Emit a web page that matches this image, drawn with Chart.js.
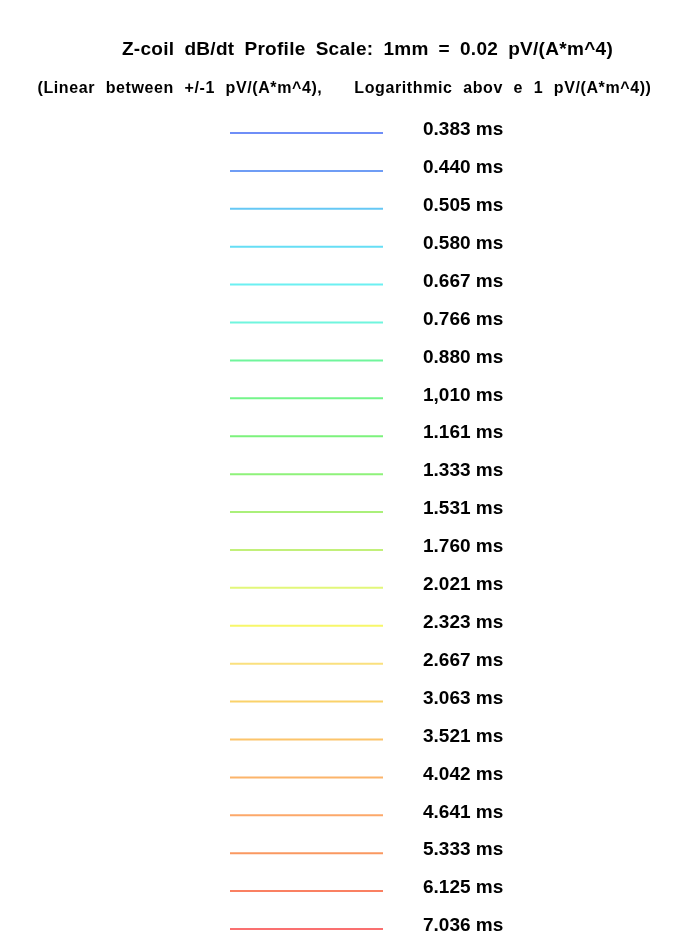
<!DOCTYPE html>
<html>
<head>
<meta charset="utf-8">
<script src="https://cdn.jsdelivr.net/npm/chart.js@4/dist/chart.umd.min.js"></script>
<style>
  html, body { margin: 0; padding: 0; background: #ffffff; }
  #wrap { width: 685px; height: 949px; }
</style>
</head>
<body>
<div id="wrap"><canvas id="profileChart"></canvas></div>
<script>
// delay times of the profile channels (as printed)
const timeLabels = ['0.383 ms', '0.440 ms', '0.505 ms', '0.580 ms', '0.667 ms', '0.766 ms',
  '0.880 ms', '1,010 ms', '1.161 ms', '1.333 ms', '1.531 ms', '1.760 ms', '2.021 ms',
  '2.323 ms', '2.667 ms', '3.063 ms', '3.521 ms', '4.042 ms', '4.641 ms', '5.333 ms',
  '6.125 ms', '7.036 ms'];

// each channel is drawn as a sample segment from start to end
const segmentX = [0, 1];

// channel colours, blue -> red
const palette = ['#6f8ef7', '#6f9df5', '#66c8f5', '#66def5', '#6cf0f2', '#70f5de',
  '#70f59c', '#74f58a', '#7cf27c', '#8ef27a', '#aaf07a', '#c2f07a', '#e2f77a',
  '#f7f76a', '#fae07e', '#fad26a', '#fcc46a', '#fcb46a', '#fca86a', '#fa9860',
  '#fa8062', '#fa7070'];

const titleText = 'Z-coil dB/dt Profile Scale: 1mm = 0.02 pV/(A*m^4)';
const subtitleText = '(Linear between +/-1 pV/(A*m^4),   Logarithmic abov e 1 pV/(A*m^4))';

// the original heading is set with wide word gaps, widen it the same way
const headingStyle = {};
headingStyle[titleText] = { letters: '0.3px', words: '4.4px', shift: 25 };
headingStyle[subtitleText] = { letters: '0.6px', words: '5.6px', shift: 2 };

const headingPlugin = {
  id: 'headingSpacing',
  beforeDraw: function (chart) {
    chart.boxes.forEach(function (box) {
      const style = box.options && headingStyle[box.options.text];
      if (!style || box._spaced) return;
      const draw = box.draw.bind(box);
      box.draw = function (area) {
        const c = chart.ctx;
        c.save();
        c.letterSpacing = style.letters;
        c.wordSpacing = style.words;
        c.translate(style.shift, 0);
        draw(area);
        c.restore();
      };
      box._spaced = true;
    });
  },
};

document.addEventListener('DOMContentLoaded', function () {
  const datasets = timeLabels.map(function (label, i) {
    return {
      label: label,
      data: segmentX.map(x => ({ x: x, y: label })),
      borderColor: palette[i],
      borderWidth: 2,
      pointRadius: 0,
      clip: false,
    };
  });

  const ctx = document.getElementById('profileChart').getContext('2d');
  new Chart(ctx, {
    type: 'line',
    data: { datasets: datasets },
    plugins: [headingPlugin],
    options: {
      responsive: true,
      maintainAspectRatio: false,
      animation: false,
      layout: { padding: 0 },
      scales: {
        x: { type: 'linear', min: 0, max: 1, display: false },
        y: {
          type: 'category',
          labels: timeLabels,
          position: 'right',
          offset: false,
          grid: { display: false },
          border: { display: false },
          ticks: {
            color: '#000',
            padding: 32,
            labelOffset: -3,
            autoSkip: false,
            font: { family: 'Liberation Sans, Arial, sans-serif', size: 19, weight: 'bold' },
          },
          afterFit: function (scale) {
            scale.width = 302;
            scale.paddingBottom = 20;
          },
        },
        // empty axis that only keeps the left margin
        yMargin: {
          type: 'category',
          labels: timeLabels,
          position: 'left',
          grid: { display: false },
          border: { display: false },
          ticks: { display: false },
          afterFit: function (scale) { scale.width = 230; },
        },
      },
      plugins: {
        legend: { display: false },
        tooltip: { enabled: false },
        title: {
          display: true,
          text: titleText,
          color: '#000',
          font: { family: 'Liberation Sans, Arial, sans-serif', size: 19, weight: 'bold' },
          padding: { top: 38, bottom: 10 },
        },
        subtitle: {
          display: true,
          text: subtitleText,
          color: '#000',
          font: { family: 'Liberation Sans, Arial, sans-serif', size: 16, weight: 'bold' },
          padding: { top: 8, bottom: 35 },
        },
      },
    },
  });
});
</script>
</body>
</html>
